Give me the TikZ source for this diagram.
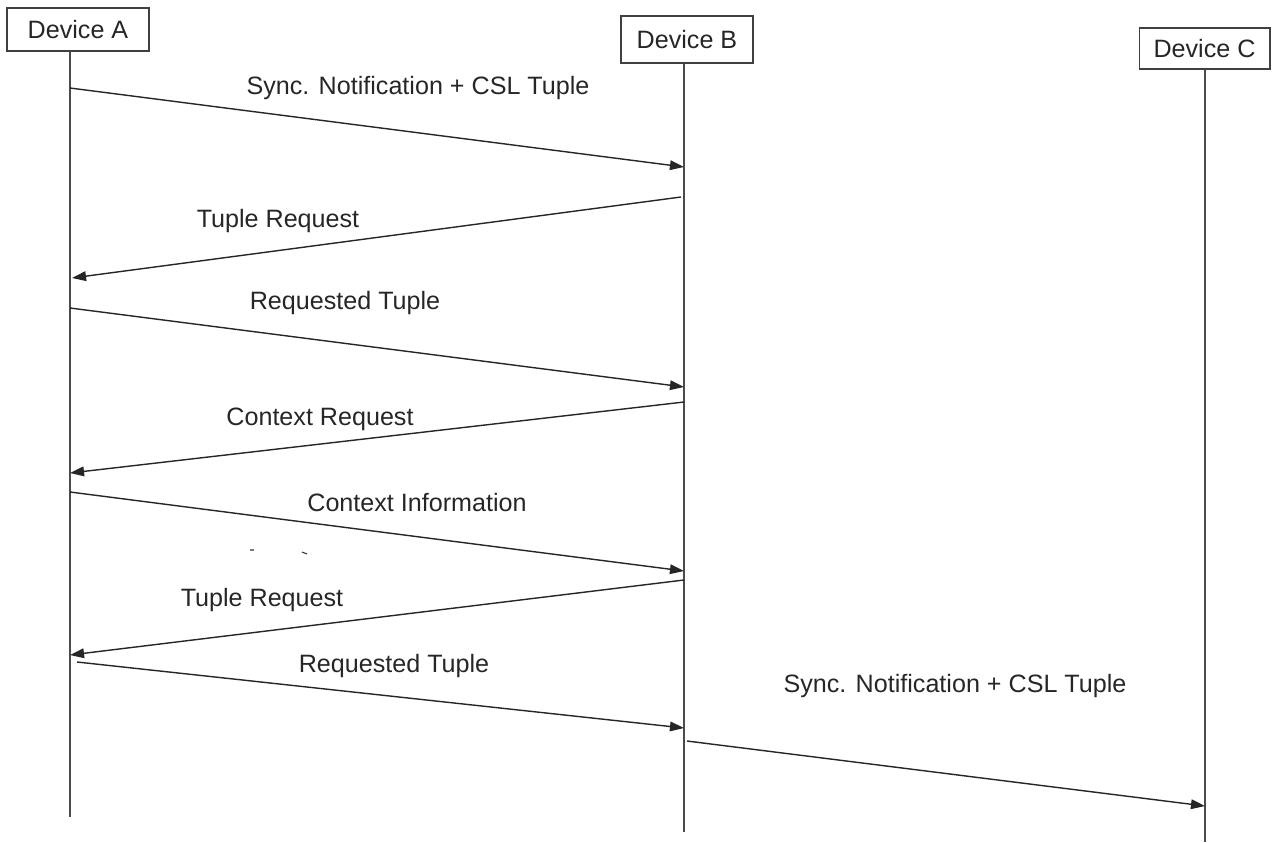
\documentclass[tikz,border=0pt]{standalone}
\usepackage{fontspec}
\setmainfont{Liberation Sans}
\usetikzlibrary{arrows.meta}

\begin{document}
\begin{tikzpicture}[x=0.02cm,y=-0.02cm,
  font=\fontsize{14.3}{17}\selectfont,
  device/.style={draw=black!75, line width=0.6pt, text=black!85, inner sep=0pt, minimum height=0.86cm},
  lifeline/.style={draw=black!70, line width=0.8pt},
  msg/.style={draw=black!85, line width=0.8pt, -{Triangle[length=8pt,width=5.5pt]}},
  lbl/.style={text=black!85, inner sep=0pt}]
  \useasboundingbox (0,0) rectangle (1288,842);
  \node[device, minimum width=2.84cm] (devA) at (78,29.5) {Device A};
  \node[device, minimum width=2.64cm, minimum height=0.94cm] (devB) at (687,39.5) {Device B};
  \node[device, minimum width=2.62cm, minimum height=0.82cm] (devC) at (1204.5,48.5) {Device C};
  \coordinate (endA) at (70,817);
  \coordinate (endB) at (684,832);
  \coordinate (endC) at (1205,842);
  \draw[lifeline] (devA.south -| endA) -- (endA);
  \draw[lifeline] (devB.south -| endB) -- (endB);
  \draw[lifeline] (devC.south -| endC) -- (endC);
  \coordinate (a1) at (70,88);   \coordinate (b1) at (684,167);
  \coordinate (b2) at (681,197); \coordinate (a2) at (72,278);
  \coordinate (a3) at (70,308);  \coordinate (b3) at (684,387);
  \coordinate (b4) at (684,402); \coordinate (a4) at (70,473);
  \coordinate (a5) at (70,492);  \coordinate (b5) at (684,571);
  \coordinate (b6) at (684,580); \coordinate (a6) at (70,655);
  \coordinate (a7) at (77,662);  \coordinate (b7) at (684,728);
  \coordinate (b8) at (687,741); \coordinate (c8) at (1205,806);
  \draw[msg] (a1) -- (b1);
  \draw[msg] (b2) -- (a2);
  \draw[msg] (a3) -- (b3);
  \draw[msg] (b4) -- (a4);
  \draw[msg] (a5) -- (b5);
  \draw[msg] (b6) -- (a6);
  \draw[msg] (a7) -- (b7);
  \draw[msg] (b8) -- (c8);
  \node[lbl] (m1) at (418,88) {Sync. Notification + CSL Tuple};
  \node[lbl] (m2) at (278,221) {Tuple Request};
  \node[lbl] (m3) at (345,303) {Requested Tuple};
  \node[lbl] (m4) at (320,419) {Context Request};
  \node[lbl] (m5) at (417,503) {Context Information};
  \node[lbl] (m6) at (262,600) {Tuple Request};
  \node[lbl] (m7) at (394,666) {Requested Tuple};
  \node[lbl] (m8) at (955,686) {Sync. Notification + CSL Tuple};
  \draw[black!80, line width=0.6pt] (250,550) -- (254,550) (302,552) -- (307,554);
\end{tikzpicture}
\end{document}
